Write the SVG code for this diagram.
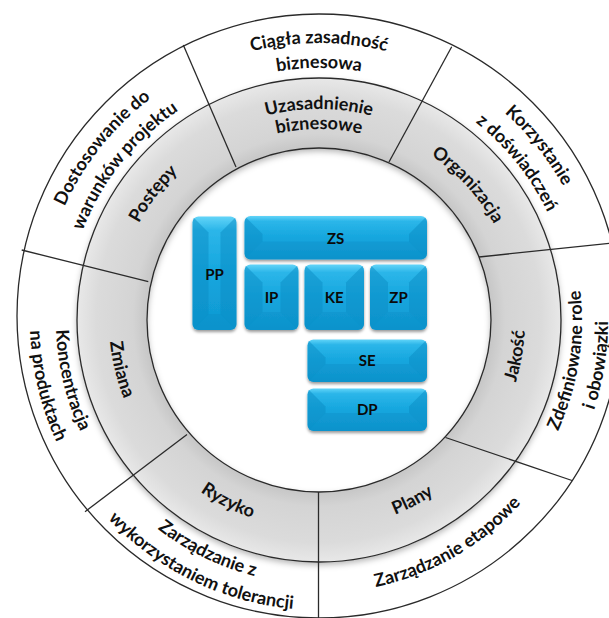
<svg xmlns="http://www.w3.org/2000/svg" width="609" height="618" viewBox="0 0 609 618">
<style>
.lbl{font-family:Lato,"Open Sans","DejaVu Sans",sans-serif;font-weight:700;font-size:18px;fill:#111}
.bl{font-family:Lato,"Open Sans","DejaVu Sans",sans-serif;font-weight:700;font-size:15px;fill:#0a0a0a;text-anchor:middle}
.div{stroke:#2a2a2a;stroke-width:1.3;fill:none}
.edge{stroke:#2a2a2a;stroke-width:1.3;fill:none}
.side{fill:#0a8cc4;opacity:.5}
.bot{fill:#0a88bf;opacity:.3}
</style>
<defs>
<radialGradient id="ringG" gradientUnits="userSpaceOnUse" cx="319" cy="320" r="242">
<stop offset="0.71" stop-color="#c6c6c6"/>
<stop offset="0.77" stop-color="#d4d4d4"/>
<stop offset="0.92" stop-color="#dbdbdb"/>
<stop offset="1" stop-color="#e8e8e8"/>
</radialGradient>
<linearGradient id="boxG" x1="0" y1="0" x2="0" y2="1">
<stop offset="0" stop-color="#62d4f8"/>
<stop offset="0.12" stop-color="#2cb6e9"/>
<stop offset="0.5" stop-color="#15a6de"/>
<stop offset="1" stop-color="#0f98d1"/>
</linearGradient>
<filter id="ringSh" x="-10%" y="-10%" width="120%" height="120%">
<feGaussianBlur in="SourceAlpha" stdDeviation="3"/>
<feOffset dy="3" result="b"/>
<feFlood flood-color="#000" flood-opacity="0.3"/>
<feComposite in2="b" operator="in"/>
<feMerge><feMergeNode/><feMergeNode in="SourceGraphic"/></feMerge>
</filter>
<filter id="boxSh" x="-20%" y="-20%" width="140%" height="140%">
<feGaussianBlur in="SourceAlpha" stdDeviation="1.5"/>
<feOffset dy="2" result="b"/>
<feFlood flood-color="#000" flood-opacity="0.4"/>
<feComposite in2="b" operator="in"/>
<feMerge><feMergeNode/><feMergeNode in="SourceGraphic"/></feMerge>
</filter>
<clipPath id="cPP"><rect x="192.5" y="216.5" width="44" height="113.5" rx="6"/></clipPath>
<clipPath id="cZS"><rect x="244.5" y="216" width="182.5" height="43.5" rx="6"/></clipPath>
<clipPath id="cIP"><rect x="244.5" y="264.5" width="54" height="65.5" rx="6"/></clipPath>
<clipPath id="cKE"><rect x="304.5" y="264.5" width="59.5" height="65.5" rx="6"/></clipPath>
<clipPath id="cZP"><rect x="370" y="264.5" width="57" height="65.5" rx="6"/></clipPath>
<clipPath id="cSE"><rect x="307.5" y="339.5" width="119.5" height="42.5" rx="6"/></clipPath>
<clipPath id="cDP"><rect x="307.5" y="388.5" width="119.5" height="42.5" rx="6"/></clipPath>
<path id="p1a" d="M90.5 162 A279 279 0 0 1 547.5 162"/>
<path id="p1b" d="M111.7 175.9 A253 253 0 0 1 526.3 175.9"/>
<path id="p2a" d="M301.5 42.6 A279 279 0 0 1 586.6 399.8"/>
<path id="p2b" d="M303.1 68.5 A253 253 0 0 1 561.7 392.4"/>
<path id="p3a" d="M434.3 557.4 A263 263 0 0 0 501.7 131.8"/>
<path id="p3b" d="M445.7 580.8 A289 289 0 0 0 519.8 113.1"/>
<path id="p4" d="M204.1 567.5 A272 272 0 0 0 590 344.7"/>
<path id="p5a" d="M59.2 362.1 A263 263 0 0 0 446.5 551"/>
<path id="p5b" d="M33.6 366.2 A289 289 0 0 0 459.1 573.8"/>
<path id="p6a" d="M122.3 146.4 A263 263 0 0 0 222.2 565.5"/>
<path id="p6b" d="M102.9 129.1 A289 289 0 0 0 212.6 589.7"/>
<path id="p7a" d="M51.4 399.8 A279 279 0 0 1 336.5 42.6"/>
<path id="p7b" d="M76.3 392.4 A253 253 0 0 1 334.9 68.5"/>
<path id="t1a" d="M156.6 184.7 A212 212 0 0 1 481.4 184.7"/>
<path id="t1b" d="M171.9 197.6 A192 192 0 0 1 466.1 197.6"/>
<path id="t2" d="M310.3 121.2 A200 200 0 0 1 517.3 347.1"/>
<path id="t3" d="M422 499.4 A206 206 0 0 0 476.8 188.6"/>
<path id="t4" d="M239.4 513.2 A208 208 0 0 0 522.1 366"/>
<path id="t5" d="M116.5 368.5 A208 208 0 0 0 400.9 512.2"/>
<path id="t6" d="M149.8 196.7 A210 210 0 0 0 225.9 509.3"/>
<path id="t7" d="M118.9 365.4 A205 205 0 0 1 310.1 116.2"/>
</defs>

<rect width="609" height="618" fill="#fff"/>

<g id="rings">
<circle cx="319" cy="316" r="302" fill="#fff" class="edge"/>
<path filter="url(#ringSh)" fill="url(#ringG)" fill-rule="evenodd" d="M77 320 A242 242 0 1 0 561 320 A242 242 0 1 0 77 320 Z M147 320 A172 172 0 1 1 491 320 A172 172 0 1 1 147 320 Z"/>
<circle cx="319" cy="320" r="242" class="edge"/>
<circle cx="319" cy="320" r="172" class="edge"/>
</g>

<g id="dividers">
<line class="div" x1="236" y1="167" x2="183.3" y2="45"/>
<line class="div" x1="389" y1="162" x2="451.7" y2="46.7"/>
<line class="div" x1="479" y1="257" x2="613" y2="243"/>
<line class="div" x1="445.5" y1="437.5" x2="572" y2="480.5"/>
<line class="div" x1="318.5" y1="492" x2="318.5" y2="618"/>
<line class="div" x1="187" y1="434.5" x2="85" y2="511.7"/>
<line class="div" x1="148.3" y1="281.7" x2="21.7" y2="250"/>
</g>

<g id="principles" class="lbl" text-anchor="middle">
<text><textPath href="#p1a" startOffset="50%">Ciągła zasadność</textPath></text>
<text><textPath href="#p1b" startOffset="50%">biznesowa</textPath></text>
<text><textPath href="#p2a" startOffset="50%">Korzystanie</textPath></text>
<text><textPath href="#p2b" startOffset="50%">z doświadczeń</textPath></text>
<text><textPath href="#p3a" startOffset="50%">Zdefiniowane role</textPath></text>
<text><textPath href="#p3b" startOffset="50%">i obowiązki</textPath></text>
<text><textPath href="#p4" startOffset="50%">Zarządzanie etapowe</textPath></text>
<text><textPath href="#p5a" startOffset="50%">Zarządzanie z</textPath></text>
<text><textPath href="#p5b" startOffset="50%">wykorzystaniem tolerancji</textPath></text>
<text><textPath href="#p6a" startOffset="50%">Koncentracja</textPath></text>
<text><textPath href="#p6b" startOffset="50%">na produktach</textPath></text>
<text><textPath href="#p7a" startOffset="50%">Dostosowanie do</textPath></text>
<text><textPath href="#p7b" startOffset="50%">warunków projektu</textPath></text>
</g>

<g id="themes" class="lbl" text-anchor="middle">
<text><textPath href="#t1a" startOffset="50%">Uzasadnienie</textPath></text>
<text><textPath href="#t1b" startOffset="50%">biznesowe</textPath></text>
<text><textPath href="#t2" startOffset="50%">Organizacja</textPath></text>
<text><textPath href="#t3" startOffset="50%">Jakość</textPath></text>
<text><textPath href="#t4" startOffset="50%">Plany</textPath></text>
<text><textPath href="#t5" startOffset="50%">Ryzyko</textPath></text>
<text><textPath href="#t6" startOffset="50%">Zmiana</textPath></text>
<text><textPath href="#t7" startOffset="50%">Postępy</textPath></text>
</g>

<g id="PP">
<rect x="192.5" y="216.5" width="44" height="113.5" rx="6" fill="url(#boxG)" filter="url(#boxSh)"/>
<g clip-path="url(#cPP)">
<polygon class="side" points="192.5,216.5 208.5,232.5 208.5,314 192.5,330"/>
<polygon class="side" points="236.5,216.5 220.5,232.5 220.5,314 236.5,330"/>
<polygon class="bot" points="192.5,330 208.5,314 220.5,314 236.5,330"/>
</g>
<text class="bl" x="214.5" y="279.5">PP</text>
</g>

<g id="ZS">
<rect x="244.5" y="216" width="182.5" height="43.5" rx="6" fill="url(#boxG)" filter="url(#boxSh)"/>
<g clip-path="url(#cZS)">
<polygon class="side" points="244.5,216 262.5,234 262.5,241.5 244.5,259.5"/>
<polygon class="side" points="427,216 409,234 409,241.5 427,259.5"/>
<polygon class="bot" points="244.5,259.5 262.5,241.5 409,241.5 427,259.5"/>
</g>
<text class="bl" x="335.7" y="243.5">ZS</text>
</g>

<g id="IP">
<rect x="244.5" y="264.5" width="54" height="65.5" rx="6" fill="url(#boxG)" filter="url(#boxSh)"/>
<g clip-path="url(#cIP)">
<polygon class="side" points="244.5,264.5 262.5,282.5 262.5,312 244.5,330"/>
<polygon class="side" points="298.5,264.5 280.5,282.5 280.5,312 298.5,330"/>
<polygon class="bot" points="244.5,330 262.5,312 280.5,312 298.5,330"/>
</g>
<text class="bl" x="271.5" y="303">IP</text>
</g>

<g id="KE">
<rect x="304.5" y="264.5" width="59.5" height="65.5" rx="6" fill="url(#boxG)" filter="url(#boxSh)"/>
<g clip-path="url(#cKE)">
<polygon class="side" points="304.5,264.5 322.5,282.5 322.5,312 304.5,330"/>
<polygon class="side" points="364,264.5 346,282.5 346,312 364,330"/>
<polygon class="bot" points="304.5,330 322.5,312 346,312 364,330"/>
</g>
<text class="bl" x="334.3" y="303">KE</text>
</g>

<g id="ZP">
<rect x="370" y="264.5" width="57" height="65.5" rx="6" fill="url(#boxG)" filter="url(#boxSh)"/>
<g clip-path="url(#cZP)">
<polygon class="side" points="370,264.5 388,282.5 388,312 370,330"/>
<polygon class="side" points="427,264.5 409,282.5 409,312 427,330"/>
<polygon class="bot" points="370,330 388,312 409,312 427,330"/>
</g>
<text class="bl" x="398.5" y="303">ZP</text>
</g>

<g id="SE">
<rect x="307.5" y="339.5" width="119.5" height="42.5" rx="6" fill="url(#boxG)" filter="url(#boxSh)"/>
<g clip-path="url(#cSE)">
<polygon class="side" points="307.5,339.5 325.5,357.5 325.5,364 307.5,382"/>
<polygon class="side" points="427,339.5 409,357.5 409,364 427,382"/>
<polygon class="bot" points="307.5,382 325.5,364 409,364 427,382"/>
</g>
<text class="bl" x="367.3" y="366">SE</text>
</g>

<g id="DP">
<rect x="307.5" y="388.5" width="119.5" height="42.5" rx="6" fill="url(#boxG)" filter="url(#boxSh)"/>
<g clip-path="url(#cDP)">
<polygon class="side" points="307.5,388.5 325.5,406.5 325.5,413 307.5,431"/>
<polygon class="side" points="427,388.5 409,406.5 409,413 427,431"/>
<polygon class="bot" points="307.5,431 325.5,413 409,413 427,431"/>
</g>
<text class="bl" x="367.3" y="415">DP</text>
</g>
</svg>
